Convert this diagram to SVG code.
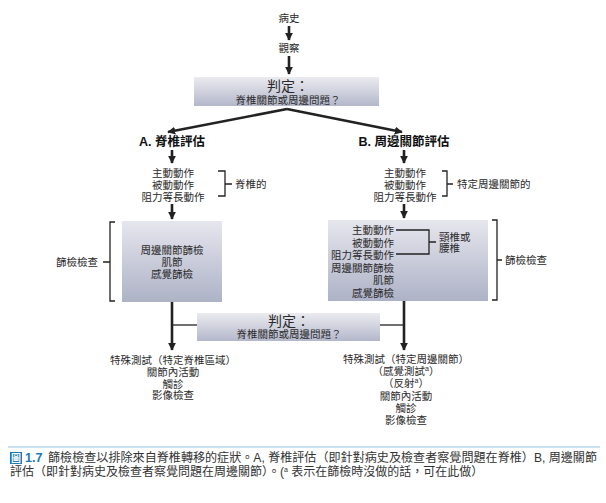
<svg xmlns="http://www.w3.org/2000/svg" width="606" height="503" viewBox="0 0 606 503">
<defs>
<linearGradient id="g" x1="0" y1="0" x2="0" y2="1">
<stop offset="0" stop-color="#ebebf0"/>
<stop offset="1" stop-color="#b3b7ca"/>
</linearGradient>
<linearGradient id="gb" x1="0" y1="0" x2="0" y2="1">
<stop offset="0" stop-color="#e6e6ee"/>
<stop offset="1" stop-color="#adb2c6"/>
</linearGradient>
<marker id="ah" viewBox="0 0 10 10" refX="9" refY="5" markerUnits="userSpaceOnUse" markerWidth="8" markerHeight="8" orient="auto">
<path d="M0,0 L10,5 L0,10 z" fill="#222"/>
</marker>
<style>
text{font-family:"Liberation Sans","Noto Sans CJK TC",sans-serif;fill:#2a2a2a;dominant-baseline:central}
.t{font-size:10.5px}
.c{text-anchor:middle}
.r{text-anchor:end}
.h{font-size:14px}
.hd{font-size:12.5px;font-weight:bold;fill:#111}
.arr{stroke:#222;stroke-width:2.6;fill:none;marker-end:url(#ah)}
.br{stroke:#222;stroke-width:1.3;fill:none}
.cap{font-size:12px;fill:#333}
</style>
</defs>
<rect width="606" height="503" fill="#ffffff"/>

<g id="connectors">
<line class="arr" x1="289" y1="26" x2="289" y2="40"/>
<line class="arr" x1="289" y1="56" x2="289" y2="74"/>
<path class="arr" d="M287,109 L168,132"/>
<path class="arr" d="M287,109 L402,132"/>
<line class="arr" x1="172" y1="150" x2="172" y2="163"/>
<line class="arr" x1="404" y1="150" x2="404" y2="163"/>
<line class="arr" x1="172" y1="204" x2="172" y2="219"/>
<line class="arr" x1="404" y1="204" x2="404" y2="218"/>
<line class="arr" x1="172" y1="302" x2="172" y2="350"/>
<line class="arr" x1="404" y1="301" x2="404" y2="350"/>
<line class="br" x1="172" y1="325" x2="197" y2="325"/>
<line class="br" x1="380" y1="325" x2="404" y2="325"/>
</g>

<g id="history"><text class="t c" x="289" y="18">病史</text></g>
<g id="observe"><text class="t c" x="289" y="48">觀察</text></g>

<g id="decision1">
<rect x="194" y="77" width="185" height="29" fill="url(#g)"/>
<text class="h c" x="288" y="86">判定：</text>
<text class="t c" x="288" y="100">脊椎關節或周邊問題？</text>
</g>

<g id="headA"><text class="hd c" x="172" y="142">A. 脊椎評估</text></g>
<g id="headB"><text class="hd c" x="404" y="142">B. 周邊關節評估</text></g>

<g id="movesA">
<text class="t c" x="173" y="173">主動動作</text>
<text class="t c" x="173" y="185">被動動作</text>
<text class="t c" x="173" y="197">阻力等長動作</text>
<path class="br" d="M218,171 H225 V196 H218 M225,184 H232"/>
<text class="t" x="235" y="184">脊椎的</text>
</g>

<g id="movesB">
<text class="t c" x="405" y="173">主動動作</text>
<text class="t c" x="405" y="185">被動動作</text>
<text class="t c" x="405" y="197">阻力等長動作</text>
<path class="br" d="M442,171 H447 V196 H442 M447,184 H453"/>
<text class="t" x="457" y="184">特定周邊關節的</text>
</g>

<g id="screenA">
<rect x="122" y="221" width="100" height="81" fill="url(#gb)"/>
<text class="t c" x="172" y="250">周邊關節篩檢</text>
<text class="t c" x="172" y="262">肌節</text>
<text class="t c" x="172" y="274">感覺篩檢</text>
<path class="br" d="M115,222 H110 V301 H115 M110,262 H103"/>
<text class="t r" x="98" y="262">篩檢檢查</text>
</g>

<g id="screenB">
<rect x="328" y="220" width="160" height="81" fill="url(#gb)"/>
<text class="t r" x="394" y="230">主動動作</text>
<text class="t r" x="394" y="242.5">被動動作</text>
<text class="t r" x="394" y="255">阻力等長動作</text>
<text class="t r" x="394" y="267.5">周邊關節篩檢</text>
<text class="t r" x="394" y="280">肌節</text>
<text class="t r" x="394" y="292.5">感覺篩檢</text>
<path class="br" d="M396,230 H429 V254 H396 M429,242 H436"/>
<text class="t" x="439" y="237">頸椎或</text>
<text class="t" x="439" y="248">腰椎</text>
<path class="br" d="M492,220 H497 V300 H492 M497,260 H502"/>
<text class="t" x="505" y="260">篩檢檢查</text>
</g>

<g id="decision2">
<rect x="197" y="313" width="183" height="28" fill="url(#g)"/>
<text class="h c" x="289" y="321">判定：</text>
<text class="t c" x="289" y="334">脊椎關節或周邊問題？</text>
</g>

<g id="testsA">
<text class="t c" x="173" y="360">特殊測試（特定脊椎區域）</text>
<text class="t c" x="173" y="372">關節內活動</text>
<text class="t c" x="173" y="383.5">觸診</text>
<text class="t c" x="173" y="395">影像檢查</text>
</g>

<g id="testsB">
<text class="t c" x="406" y="359">特殊測試（特定周邊關節）</text>
<text class="t c" x="406" y="371">（感覺測試<tspan font-size="7" dy="-3">a</tspan><tspan dy="3">）</tspan></text>
<text class="t c" x="406" y="383">（反射<tspan font-size="7" dy="-3">a</tspan><tspan dy="3">）</tspan></text>
<text class="t c" x="406" y="396">關節內活動</text>
<text class="t c" x="406" y="408">觸診</text>
<text class="t c" x="406" y="420">影像檢查</text>
</g>

<g id="caption">
<line x1="8" y1="447" x2="600" y2="447" stroke="#8fc4dd" stroke-width="1.2"/>
<rect x="10" y="452" width="12" height="12" fill="#1a78b8"/>
<text x="16" y="458" style="font-size:10px;fill:#fff;text-anchor:middle;font-weight:bold">圖</text>
<text x="25" y="458" style="font-size:12.5px;fill:#1a78b8;font-weight:bold">1.7</text>
<text class="cap" x="48" y="458" textLength="549" lengthAdjust="spacingAndGlyphs">篩檢檢查以排除來自脊椎轉移的症狀。A, 脊椎評估（即針對病史及檢查者察覺問題在脊椎）B, 周邊關節</text>
<text class="cap" x="10" y="472">評估（即針對病史及檢查者察覺問題在周邊關節）。(<tspan font-size="7" dy="-3">a</tspan><tspan dy="3"> 表示在篩檢時沒做的話，可在此做）</tspan></text>
</g>
</svg>
